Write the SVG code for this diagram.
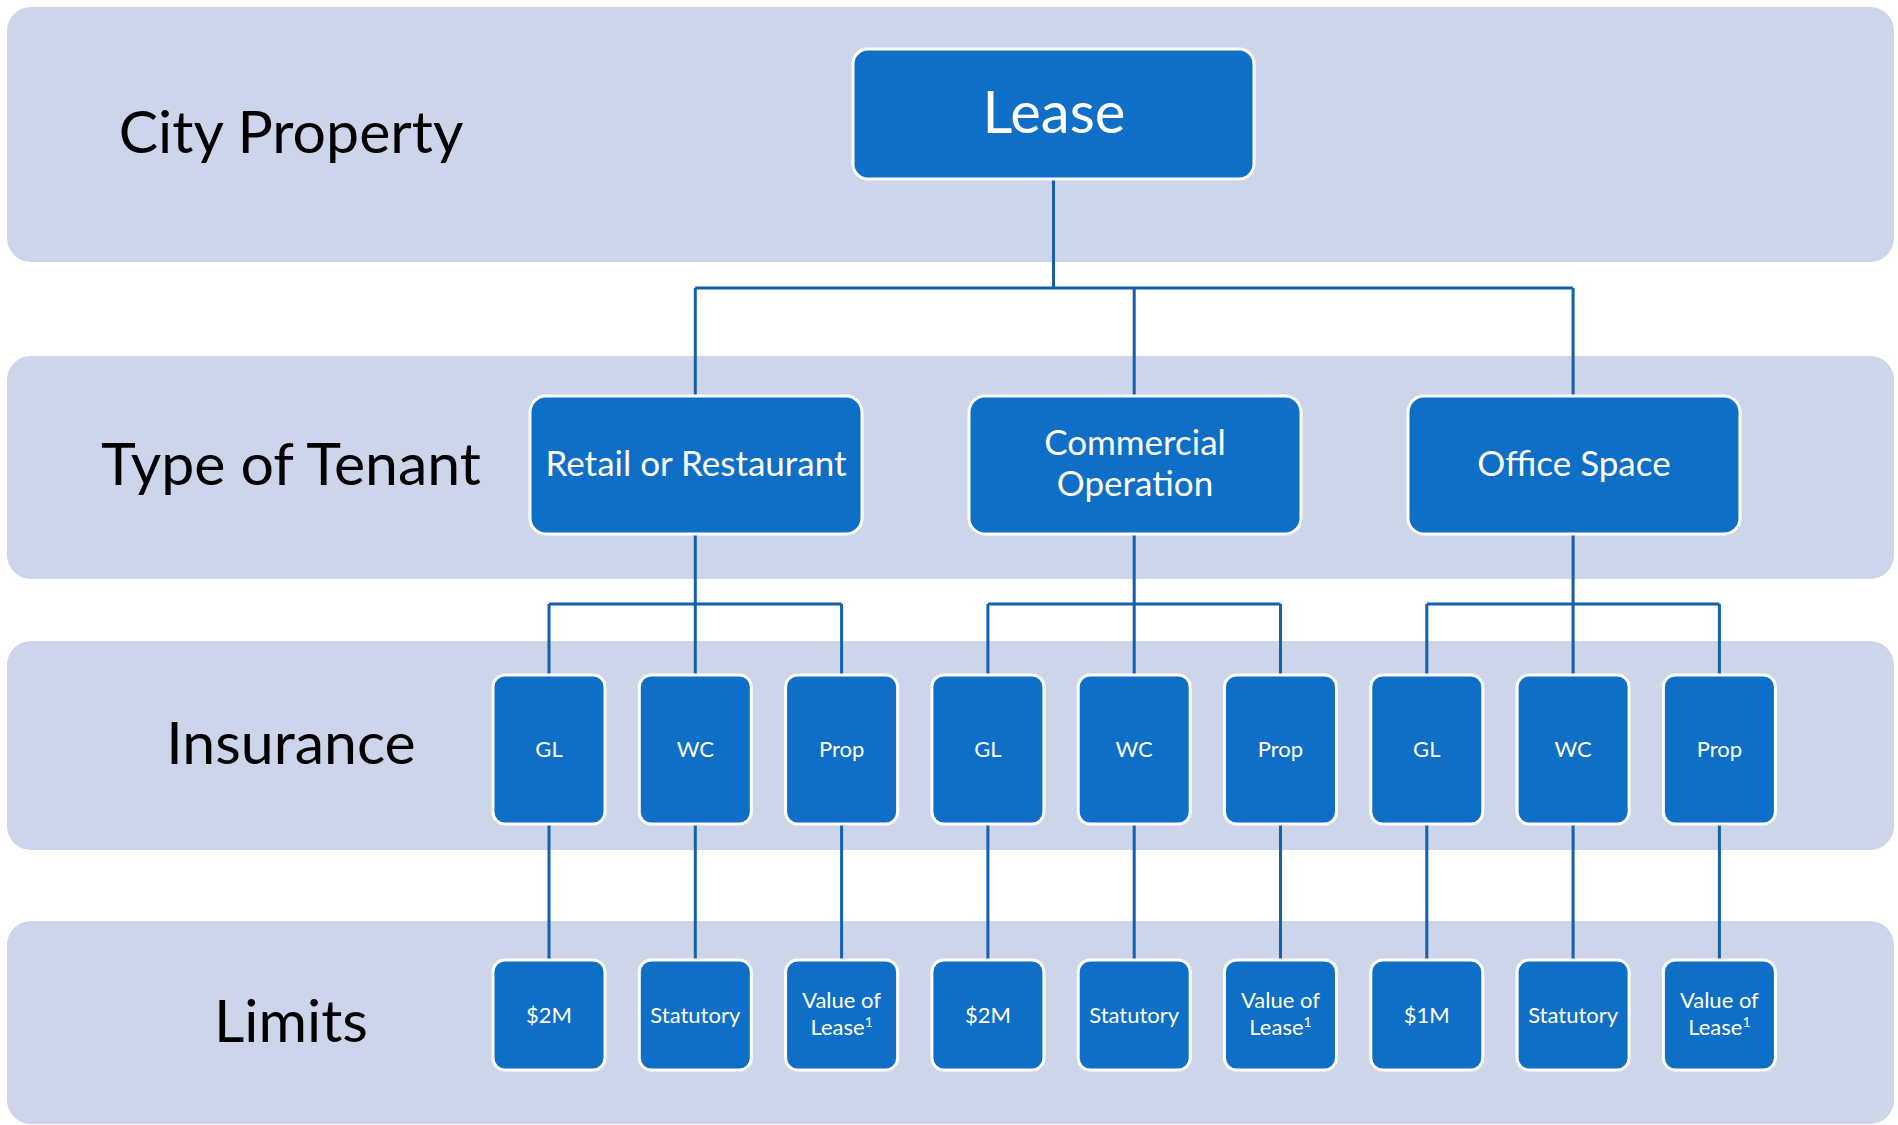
<svg xmlns="http://www.w3.org/2000/svg" width="1898" height="1125" viewBox="0 0 1898 1125">
<style>
.band{fill:#CDD5EA;}
.lbl{font-family:Lato,"Noto Sans","Liberation Sans",sans-serif;font-size:59px;fill:#000;text-anchor:middle;}
.box{fill:#0F6FC6;stroke:#FFFFFF;stroke-width:3;}
.t{font-family:Lato,"Noto Sans","Liberation Sans",sans-serif;fill:#FFFFFF;text-anchor:middle;}
.big{font-size:58px;}
.mid{font-size:35px;}
.sm{font-size:22px;}
.con{fill:none;stroke:#155FAB;stroke-width:3;}
</style>
<rect width="1898" height="1125" fill="#FFFFFF"/>
<g id="bands">
<rect class="band" x="7" y="7" width="1887" height="255" rx="24"/>
<rect class="band" x="7" y="356" width="1887" height="223" rx="24"/>
<rect class="band" x="7" y="641" width="1887" height="209" rx="24"/>
<rect class="band" x="7" y="921" width="1887" height="203" rx="24"/>
<text class="lbl" x="291" y="153">City Property</text>
<text class="lbl" x="291" y="485">Type of Tenant</text>
<text class="lbl" x="291" y="764">Insurance</text>
<text class="lbl" x="291" y="1042">Limits</text>
</g>
<g id="connectors">
<path class="con" d="M1053.5 179V288M695.3 288H1573.1M695.3 288V396M1134.2 288V396M1573.1 288V396"/>
<path class="con" d="M695.3 534V604M549 604H841.6M549 604V675M695.3 604V675M841.6 604V675"/>
<path class="con" d="M1134.2 534V604M987.9 604H1280.5M987.9 604V675M1134.2 604V675M1280.5 604V675"/>
<path class="con" d="M1573.1 534V604M1426.8 604H1719.4M1426.8 604V675M1573.1 604V675M1719.4 604V675"/>
<path class="con" d="M549 824V960M695.3 824V960M841.6 824V960M987.9 824V960M1134.2 824V960M1280.5 824V960M1426.8 824V960M1573.1 824V960M1719.4 824V960"/>
</g>
<g id="lease"><rect class="box" x="853" y="49" width="401" height="130" rx="15"/><text class="t big" x="1054" y="133">Lease</text></g>
<g id="retail"><rect class="box" x="530" y="396" width="332" height="138" rx="16"/><text class="t mid" x="696" y="476">Retail or Restaurant</text></g>
<g id="commercial"><rect class="box" x="969" y="396" width="332" height="138" rx="16"/><text class="t mid" x="1135" y="455">Commercial</text><text class="t mid" x="1135" y="496">Operation</text></g>
<g id="office"><rect class="box" x="1408" y="396" width="332" height="138" rx="16"/><text class="t mid" x="1574" y="476">Office Space</text></g>
<g id="ins-gl-1"><rect class="box" x="493" y="675" width="112" height="149" rx="12"/><text class="t sm" x="549" y="757">GL</text></g>
<g id="ins-wc-1"><rect class="box" x="639.3" y="675" width="112" height="149" rx="12"/><text class="t sm" x="695.3" y="757">WC</text></g>
<g id="ins-prop-1"><rect class="box" x="785.6" y="675" width="112" height="149" rx="12"/><text class="t sm" x="841.6" y="757">Prop</text></g>
<g id="ins-gl-2"><rect class="box" x="931.9" y="675" width="112" height="149" rx="12"/><text class="t sm" x="987.9" y="757">GL</text></g>
<g id="ins-wc-2"><rect class="box" x="1078.2" y="675" width="112" height="149" rx="12"/><text class="t sm" x="1134.2" y="757">WC</text></g>
<g id="ins-prop-2"><rect class="box" x="1224.5" y="675" width="112" height="149" rx="12"/><text class="t sm" x="1280.5" y="757">Prop</text></g>
<g id="ins-gl-3"><rect class="box" x="1370.8" y="675" width="112" height="149" rx="12"/><text class="t sm" x="1426.8" y="757">GL</text></g>
<g id="ins-wc-3"><rect class="box" x="1517.1" y="675" width="112" height="149" rx="12"/><text class="t sm" x="1573.1" y="757">WC</text></g>
<g id="ins-prop-3"><rect class="box" x="1663.4" y="675" width="112" height="149" rx="12"/><text class="t sm" x="1719.4" y="757">Prop</text></g>
<g id="lim-gl-1"><rect class="box" x="493" y="960" width="112" height="110" rx="12"/><text class="t sm" x="549" y="1023">$2M</text></g>
<g id="lim-wc-1"><rect class="box" x="639.3" y="960" width="112" height="110" rx="12"/><text class="t sm" x="695.3" y="1023">Statutory</text></g>
<g id="lim-prop-1"><rect class="box" x="785.6" y="960" width="112" height="110" rx="12"/><text class="t sm" x="841.6" y="1008">Value of</text><text class="t sm" x="841.6" y="1035">Lease<tspan font-size="14" dy="-8">1</tspan></text></g>
<g id="lim-gl-2"><rect class="box" x="931.9" y="960" width="112" height="110" rx="12"/><text class="t sm" x="987.9" y="1023">$2M</text></g>
<g id="lim-wc-2"><rect class="box" x="1078.2" y="960" width="112" height="110" rx="12"/><text class="t sm" x="1134.2" y="1023">Statutory</text></g>
<g id="lim-prop-2"><rect class="box" x="1224.5" y="960" width="112" height="110" rx="12"/><text class="t sm" x="1280.5" y="1008">Value of</text><text class="t sm" x="1280.5" y="1035">Lease<tspan font-size="14" dy="-8">1</tspan></text></g>
<g id="lim-gl-3"><rect class="box" x="1370.8" y="960" width="112" height="110" rx="12"/><text class="t sm" x="1426.8" y="1023">$1M</text></g>
<g id="lim-wc-3"><rect class="box" x="1517.1" y="960" width="112" height="110" rx="12"/><text class="t sm" x="1573.1" y="1023">Statutory</text></g>
<g id="lim-prop-3"><rect class="box" x="1663.4" y="960" width="112" height="110" rx="12"/><text class="t sm" x="1719.4" y="1008">Value of</text><text class="t sm" x="1719.4" y="1035">Lease<tspan font-size="14" dy="-8">1</tspan></text></g>
</svg>
